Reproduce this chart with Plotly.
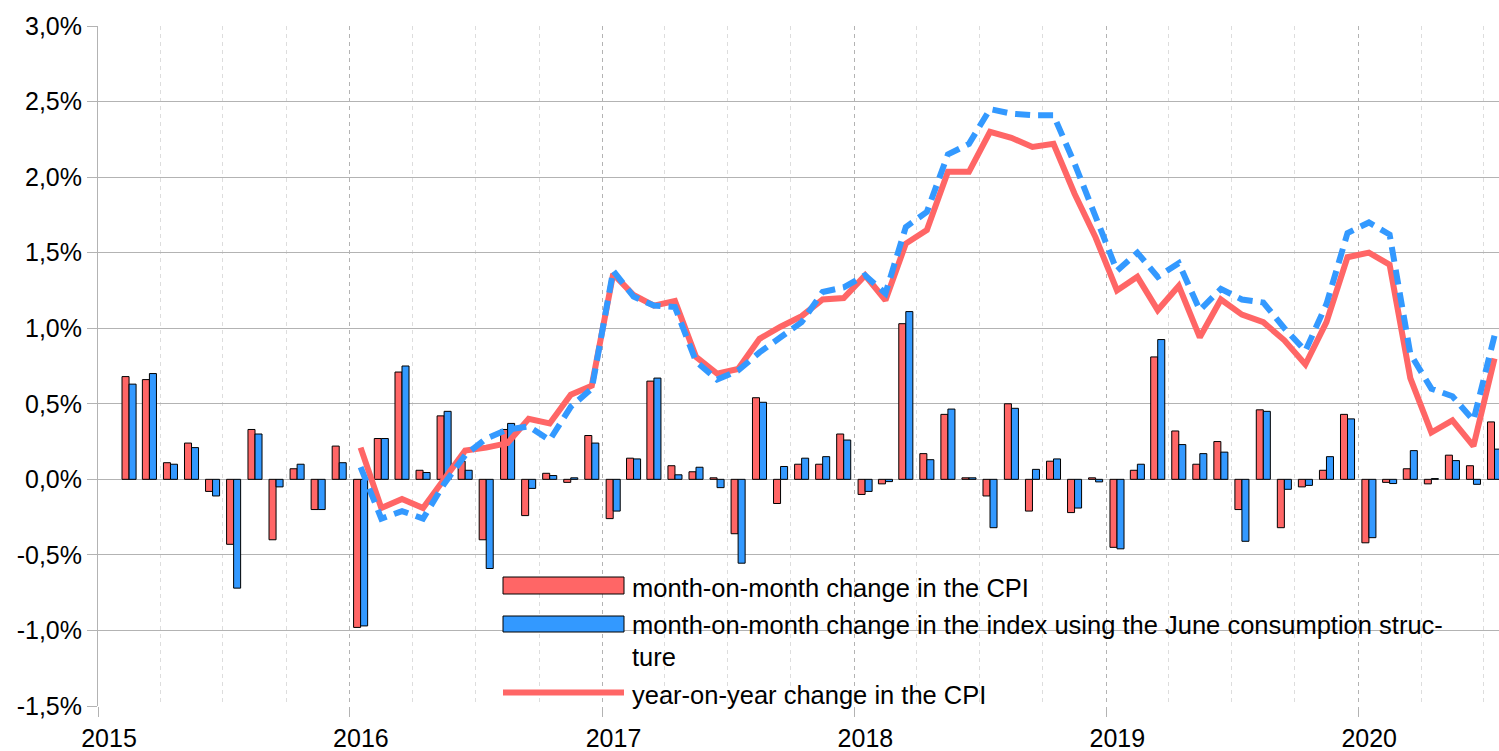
import plotly.graph_objects as go
import pandas as pd

# ---------------- data ----------------
bar_months = pd.date_range("2015-02-01", "2020-07-01", freq="MS").strftime("%Y-%m-%d").tolist()
line_months = pd.date_range("2016-01-01", "2020-07-01", freq="MS").strftime("%Y-%m-%d").tolist()

cpi_mom = [
    0.68, 0.66, 0.11, 0.24, -0.08, -0.43, 0.33, -0.40, 0.07, -0.20, 0.22,
    -0.98, 0.27, 0.71, 0.06, 0.42, 0.12, -0.40, 0.33, -0.24, 0.04, -0.02, 0.29,
    -0.26, 0.14, 0.65, 0.09, 0.05, 0.01, -0.36, 0.54, -0.16, 0.10, 0.10, 0.30,
    -0.10, -0.03, 1.03, 0.17, 0.43, 0.01, -0.11, 0.50, -0.21, 0.12, -0.22, 0.01,
    -0.45, 0.06, 0.81, 0.32, 0.10, 0.25, -0.20, 0.46, -0.32, -0.05, 0.06, 0.43,
    -0.42, -0.02, 0.07, -0.03, 0.16, 0.09, 0.38,
]
idx_mom = [
    0.63, 0.70, 0.10, 0.21, -0.11, -0.72, 0.30, -0.05, 0.10, -0.20, 0.11,
    -0.97, 0.27, 0.75, 0.045, 0.45, 0.06, -0.59, 0.37, -0.06, 0.025, 0.01, 0.24,
    -0.21, 0.135, 0.67, 0.03, 0.08, -0.055, -0.555, 0.51, 0.085, 0.14, 0.15, 0.26,
    -0.08, -0.015, 1.11, 0.13, 0.465, 0.01, -0.32, 0.47, 0.066, 0.135, -0.19, -0.017,
    -0.46, 0.10, 0.925, 0.23, 0.17, 0.18, -0.41, 0.45, -0.066, -0.04, 0.15, 0.40,
    -0.386, -0.028, 0.19, 0.005, 0.124, -0.033, 0.20,
]
cpi_yoy = [
    0.21, -0.19, -0.13, -0.19, 0.00, 0.19, 0.21, 0.24, 0.40, 0.37, 0.56, 0.62,
    1.36, 1.22, 1.15, 1.18, 0.81, 0.70, 0.73, 0.93, 1.01, 1.08, 1.19, 1.20,
    1.35, 1.185, 1.56, 1.65, 2.035, 2.035, 2.30, 2.26, 2.20, 2.22, 1.89, 1.60,
    1.25, 1.34, 1.12, 1.28, 0.94, 1.19, 1.09, 1.04, 0.92, 0.76, 1.04, 1.47,
    1.50, 1.42, 0.67, 0.31, 0.39, 0.22, 0.80,
]
idx_yoy = [
    0.08, -0.26, -0.21, -0.26, -0.03, 0.16, 0.27, 0.33, 0.35, 0.26, 0.48, 0.60,
    1.38, 1.21, 1.15, 1.14, 0.78, 0.66, 0.72, 0.84, 0.94, 1.04, 1.24, 1.27,
    1.35, 1.23, 1.67, 1.77, 2.15, 2.22, 2.45, 2.42, 2.41, 2.41, 2.09, 1.74,
    1.38, 1.50, 1.34, 1.43, 1.12, 1.26, 1.19, 1.17, 1.00, 0.85, 1.16, 1.63,
    1.70, 1.62, 0.83, 0.60, 0.55, 0.39, 0.95,
]

y_tickvals = [-1.5, -1.0, -0.5, 0.0, 0.5, 1.0, 1.5, 2.0, 2.5, 3.0]
y_ticktext = ["-1,5%", "-1,0%", "-0,5%", "0,0%", "0,5%", "1,0%", "1,5%", "2,0%", "2,5%", "3,0%"]

legend_labels = [
    "month-on-month change in the CPI",
    "month-on-month change in the index using the June consumption struc-",
    "ture",
    "year-on-year change in the CPI",
]

RED = "#ff6666"
BLUE = "#3399ff"
FONT = "Liberation Sans"

fig = go.Figure()
fig.add_trace(go.Bar(x=bar_months, y=cpi_mom, xperiod="M1", xperiodalignment="middle",
                     marker=dict(color=RED, line=dict(color="#000000", width=1)),
                     name=legend_labels[0]))
fig.add_trace(go.Bar(x=bar_months, y=idx_mom, xperiod="M1", xperiodalignment="middle",
                     marker=dict(color=BLUE, line=dict(color="#000000", width=1)),
                     name="index mom"))
fig.add_trace(go.Scatter(x=line_months, y=cpi_yoy, xperiod="M1", xperiodalignment="middle",
                         mode="lines", line=dict(color=RED, width=6), name="cpi yoy"))
fig.add_trace(go.Scatter(x=line_months, y=idx_yoy, xperiod="M1", xperiodalignment="middle",
                         mode="lines", line=dict(color=BLUE, width=6, dash="15px,8px"),
                         name="index yoy"))

L, T, B = 98, 26, 706
W, H = 1499, 751
PW, PH = W - L, B - T


def px(x):
    return (x - L) / PW


def py(y):
    return (B - y) / PH


shapes = [
    dict(type="rect", xref="paper", yref="paper", x0=px(503), x1=px(624), y0=py(594), y1=py(577),
         fillcolor=RED, line=dict(color="#000000", width=1), layer="above"),
    dict(type="rect", xref="paper", yref="paper", x0=px(503), x1=px(624), y0=py(632), y1=py(616),
         fillcolor=BLUE, line=dict(color="#000000", width=1), layer="above"),
    dict(type="line", xref="paper", yref="paper", x0=px(503), x1=px(624), y0=py(692.5), y1=py(692.5),
         line=dict(color=RED, width=6), layer="above"),
]
ann_y = [586.5, 624, 655.5, 693.5]
annotations = [
    dict(xref="paper", yref="paper", x=px(630), y=py(yy + 1), text=t, showarrow=False,
         xanchor="left", yanchor="middle", font=dict(family=FONT, size=25.5, color="#000000"))
    for t, yy in zip(legend_labels, ann_y)
]

fig.update_layout(
    width=W, height=H,
    margin=dict(l=L, r=0, t=T, b=H - B, pad=0, autoexpand=False),
    paper_bgcolor="white", plot_bgcolor="white",
    barmode="group", bargap=0.31, bargroupgap=0,
    showlegend=False,
    font=dict(family=FONT, size=25, color="#000000"),
    shapes=shapes, annotations=annotations,
)
fig.update_xaxes(
    type="date", range=["2015-01-01", "2020-07-23"], automargin=False,
    dtick="M12", tick0="2015-01-01", tickformat="%Y",
    ticks="outside", ticklen=10, tickcolor="#b3b3b3",
    ticklabelshift=11, ticklabelstandoff=0,
    showgrid=True, gridcolor="#b3b3b3", griddash="4px,4px", gridwidth=1,
    minor=dict(dtick="M3", tick0="2015-01-01", showgrid=True, gridcolor="#dddddd",
               griddash="4px,4px", ticks=""),
    showline=False, zeroline=False,
    tickfont=dict(family=FONT, size=25, color="#000000"),
)
fig.update_yaxes(
    range=[-1.5, 3.0], tickvals=y_tickvals, ticktext=y_ticktext, automargin=False,
    ticks="outside", ticklen=10, tickcolor="#b3b3b3",
    showgrid=True, gridcolor="#b3b3b3", gridwidth=1,
    zeroline=False, showline=True, linecolor="#b3b3b3", linewidth=1,
    tickfont=dict(family=FONT, size=25, color="#000000"),
)

fig.write_html(
    "out.html",
    config={"displayModeBar": False},
    post_script="document.body.style.margin='0';document.body.style.overflow='hidden';",
)
